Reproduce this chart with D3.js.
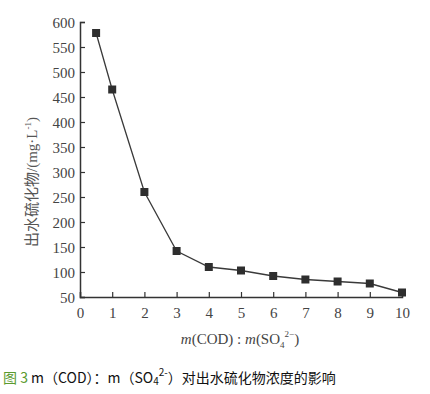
<!DOCTYPE html>
<html><head><meta charset="utf-8">
<script src="https://cdn.jsdelivr.net/npm/d3@7"></script>
<style>body{margin:0;background:#fff;}</style>
</head><body>
<svg id="c" width="430" height="394"></svg>
<script>
const ratios = [0.5, 1, 2, 3, 4, 5, 6, 7, 8, 9, 10];
const sulfide = [578, 465, 260, 142, 110, 103, 92, 85, 81, 77, 59];
const xTicks = [0,1,2,3,4,5,6,7,8,9,10];
const yTicks = [50,100,150,200,250,300,350,400,450,500,550,600];

const svg = d3.select("#c");
const x = d3.scaleLinear().domain([0,10]).range([80,402]);
const y = d3.scaleLinear().domain([50,600]).range([297,22]);
const ink = "#333";
const serif = "'Liberation Serif','DejaVu Serif',serif";

const xa = svg.append("g").attr("transform","translate(0,297)")
  .call(d3.axisBottom(x).tickValues(xTicks).tickSize(-5).tickPadding(10).tickFormat(d3.format("d")));
const ya = svg.append("g").attr("transform","translate(80,0)")
  .call(d3.axisLeft(y).tickValues(yTicks).tickSize(-5).tickPadding(5).tickFormat(d3.format("d")));
[xa, ya].forEach(a => {
  a.select(".domain").attr("stroke", ink).attr("stroke-width", 1.5);
  a.selectAll(".tick line").attr("stroke", ink).attr("stroke-width", 1.2);
  a.selectAll("text").attr("fill", "#444").style("font-family", serif).style("font-size", "15px");
});
ya.selectAll("text").attr("dy","0.35em");

svg.append("path").datum(ratios.map((r,i)=>[r, sulfide[i]]))
  .attr("fill","none").attr("stroke","#3a3a3a").attr("stroke-width",1.3)
  .attr("d", d3.line().x(d=>x(d[0])).y(d=>y(d[1])));

svg.selectAll("rect.m").data(ratios.map((r,i)=>[r, sulfide[i]])).enter().append("rect")
  .attr("class","m").attr("x",d=>x(d[0])-4).attr("y",d=>y(d[1])-4)
  .attr("width",8).attr("height",8).attr("fill","#2e2e2e");

// y label
const yl = svg.append("text").attr("transform","translate(37,182) rotate(-90)")
  .attr("text-anchor","middle").attr("fill","#555").style("font-size","15px");
yl.append("tspan").style("font-family","'Noto Sans CJK SC',sans-serif").text("出水硫化物");
yl.append("tspan").style("font-family",serif).text("/(mg·L");
yl.append("tspan").style("font-family",serif).attr("dy",-6).attr("font-size","9px").text("-1");
yl.append("tspan").style("font-family",serif).attr("dy",6).text(")");

// x label
const xl = svg.append("text").attr("x",240).attr("y",344).attr("text-anchor","middle")
  .attr("fill","#444").style("font-family",serif).style("font-size","15px");
xl.append("tspan").attr("font-style","italic").text("m");
xl.append("tspan").text("(COD) : ");
xl.append("tspan").attr("font-style","italic").text("m");
xl.append("tspan").text("(SO");
xl.append("tspan").attr("font-size","9px").attr("dy",4).text("4");
xl.append("tspan").attr("font-size","9px").attr("dy",-11).text("2−");
xl.append("tspan").attr("dy",7).text(")");

// caption
const cap = svg.append("text").attr("x",3).attr("y",383).attr("fill","#111")
  .style("font-family","'Noto Sans CJK SC','DejaVu Sans',sans-serif").style("font-size","14px");
cap.append("tspan").attr("fill","#5a9a2e").text("图 3");
cap.append("tspan").text(" m（COD）：m（SO");
cap.append("tspan").attr("font-size","10px").attr("dy",2).text("4");
cap.append("tspan").attr("font-size","10px").attr("dy",-9).text("2-");
cap.append("tspan").attr("dy",7).text("）对出水硫化物浓度的影响");
</script>
</body></html>
